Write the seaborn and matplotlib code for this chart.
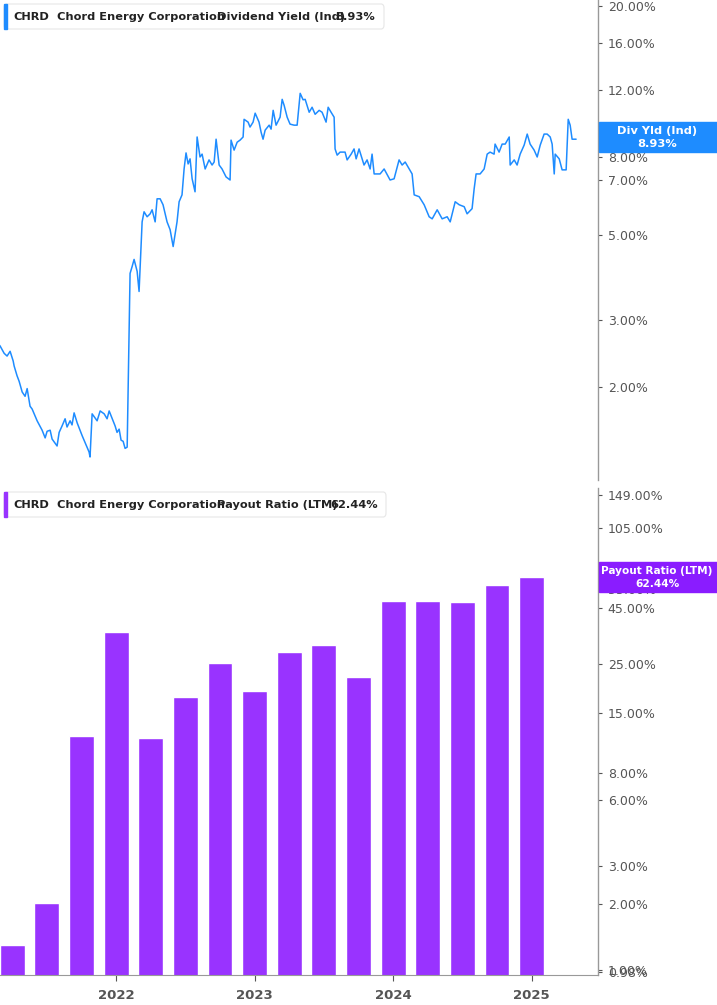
import matplotlib
matplotlib.use("Agg")
import matplotlib.pyplot as plt
import seaborn as sns
import pandas as pd
from matplotlib.patches import FancyBboxPatch, Rectangle
from matplotlib.ticker import FixedLocator, NullLocator

plt.rcParams["font.family"] = "Inter"

# ---- data ----
yield_time = [2021.141, 2021.163, 2021.192, 2021.213, 2021.235, 2021.257, 2021.264, 2021.285, 2021.300, 2021.322,
              2021.343, 2021.358, 2021.379, 2021.394, 2021.430, 2021.466, 2021.488, 2021.502, 2021.524, 2021.538,
              2021.574, 2021.589, 2021.610, 2021.632, 2021.646, 2021.668, 2021.682, 2021.697, 2021.719, 2021.755,
              2021.776, 2021.805, 2021.812, 2021.827, 2021.863, 2021.885, 2021.914, 2021.935, 2021.950, 2021.993,
              2022.007, 2022.022, 2022.036, 2022.051, 2022.065, 2022.080, 2022.101, 2022.116, 2022.130, 2022.152,
              2022.166, 2022.188, 2022.202, 2022.224, 2022.246, 2022.260, 2022.282, 2022.296, 2022.318, 2022.339,
              2022.368, 2022.390, 2022.412, 2022.426, 2022.440, 2022.455, 2022.476, 2022.491, 2022.505, 2022.520,
              2022.534, 2022.549, 2022.570, 2022.585, 2022.606, 2022.621, 2022.643, 2022.671, 2022.693, 2022.708,
              2022.722, 2022.744, 2022.765, 2022.794, 2022.823, 2022.830, 2022.852, 2022.874, 2022.895, 2022.917,
              2022.924, 2022.953, 2022.967, 2022.989, 2023.004, 2023.032, 2023.047, 2023.061, 2023.076, 2023.105,
              2023.119, 2023.134, 2023.155, 2023.184, 2023.199, 2023.213, 2023.235, 2023.256, 2023.285, 2023.307,
              2023.329, 2023.350, 2023.365, 2023.394, 2023.415, 2023.437, 2023.466, 2023.487, 2023.516, 2023.531,
              2023.552, 2023.574, 2023.581, 2023.596, 2023.617, 2023.653, 2023.668, 2023.697, 2023.718, 2023.733,
              2023.754, 2023.790, 2023.812, 2023.834, 2023.848, 2023.863, 2023.906, 2023.935, 2023.978, 2024.007,
              2024.043, 2024.065, 2024.087, 2024.116, 2024.137, 2024.152, 2024.188, 2024.224, 2024.260, 2024.282,
              2024.318, 2024.354, 2024.390, 2024.412, 2024.448, 2024.477, 2024.513, 2024.534, 2024.570, 2024.585,
              2024.599, 2024.628, 2024.657, 2024.679, 2024.700, 2024.729, 2024.736, 2024.765, 2024.787, 2024.809,
              2024.838, 2024.845, 2024.874, 2024.895, 2024.917, 2024.946, 2024.968, 2024.989, 2025.018, 2025.040,
              2025.062, 2025.090, 2025.112, 2025.134, 2025.148, 2025.163, 2025.170, 2025.199, 2025.220, 2025.235,
              2025.249, 2025.264, 2025.278, 2025.292, 2025.307, 2025.321]
yield_pct = [2.62, 2.56, 2.45, 2.41, 2.48, 2.34, 2.27, 2.14, 2.07, 1.94,
             1.89, 1.98, 1.78, 1.75, 1.63, 1.54, 1.47, 1.53, 1.54, 1.46,
             1.40, 1.52, 1.58, 1.65, 1.57, 1.63, 1.59, 1.71, 1.61, 1.49,
             1.43, 1.35, 1.31, 1.70, 1.63, 1.73, 1.70, 1.65, 1.73, 1.58,
             1.52, 1.55, 1.45, 1.44, 1.38, 1.39, 3.97, 4.14, 4.32, 4.02,
             3.56, 5.42, 5.76, 5.59, 5.69, 5.83, 5.42, 6.23, 6.23, 6.01,
             5.42, 5.17, 4.67, 5.04, 5.42, 6.12, 6.38, 7.46, 8.22, 7.69,
             7.93, 7.03, 6.50, 9.05, 8.02, 8.16, 7.46, 7.88, 7.64, 7.78,
             8.93, 7.64, 7.46, 7.11, 6.98, 8.88, 8.36, 8.77, 8.88, 9.05,
             10.07, 9.90, 9.61, 9.90, 10.45, 9.90, 9.31, 8.93, 9.43, 9.72,
             9.49, 10.63, 9.72, 10.20, 11.36, 10.96, 10.20, 9.78, 9.72, 9.72,
             11.78, 11.33, 11.36, 10.51, 10.83, 10.38, 10.63, 10.51, 9.90, 10.83,
             10.51, 10.20, 8.42, 8.11, 8.26, 8.26, 7.88, 8.16, 8.42, 7.93,
             8.42, 7.64, 7.88, 7.46, 8.16, 7.24, 7.24, 7.46, 6.98, 7.03,
             7.88, 7.64, 7.78, 7.46, 7.24, 6.38, 6.31, 6.01, 5.59, 5.52,
             5.83, 5.52, 5.59, 5.42, 6.12, 6.01, 5.94, 5.69, 5.87, 6.62,
             7.24, 7.24, 7.46, 8.16, 8.26, 8.16, 8.67, 8.26, 8.67, 8.67,
             9.05, 7.64, 7.88, 7.64, 8.16, 8.62, 9.21, 8.67, 8.36, 8.02,
             8.62, 9.21, 9.21, 9.05, 8.67, 7.24, 8.16, 7.93, 7.42, 7.42,
             7.42, 10.07, 9.72, 8.93, 8.93, 8.93]
quarter_time = [2021.25, 2021.50, 2021.75, 2022.00, 2022.25, 2022.50, 2022.75, 2023.00,
                2023.25, 2023.50, 2023.75, 2024.00, 2024.25, 2024.50, 2024.75, 2025.00]
payout_pct = [1.30, 2.02, 11.8, 35.2, 11.5, 17.7, 25.4, 18.9,
              28.5, 30.7, 21.9, 48.7, 48.7, 48.0, 57.7, 62.44]
year_ticks = [2022, 2023, 2024, 2025]
year_labels = ["2022", "2023", "2024", "2025"]
yield_ticks = [2, 3, 5, 7, 8, 12, 16, 20]
payout_ticks = [0.98, 1, 2, 3, 6, 8, 15, 25, 45, 55, 105, 149]

BLUE = "#1e8cff"
PURPLE = "#9933ff"
GRAY = "#555555"

sns.set_style("white")
fig = plt.figure(figsize=(7.17, 10.05), dpi=100)
W, H = 717, 1005
ax1 = fig.add_axes([0, 1 - 480 / H, 598 / W, 480 / H])
ax2 = fig.add_axes([0, 1 - 975 / H, 598 / W, 487 / H])

df = pd.DataFrame({"t": yield_time, "y": yield_pct})
sns.lineplot(data=df, x="t", y="y", ax=ax1, color=BLUE, linewidth=1.1)
ax1.set_yscale("log")
ax1.set_ylim(1.14, 20.7)

ax2.set_yscale("log")
ax2.bar(quarter_time, payout_pct, width=0.18, bottom=0.0, color=PURPLE, align="center")
ax2.set_ylim(0.949, 160)

for ax, ticks in ((ax1, yield_ticks), (ax2, payout_ticks)):
    ax.set_xlim(2021.162, 2025.479)
    ax.set_xlabel("")
    ax.set_ylabel("")
    ax.yaxis.tick_right()
    ax.yaxis.set_major_locator(FixedLocator(ticks))
    ax.yaxis.set_minor_locator(NullLocator())
    ax.set_yticklabels([f"{t:.2f}%" for t in ticks])
    ax.tick_params(axis="y", which="major", right=True, length=3, width=0.8, color=GRAY,
                   labelsize=9, labelcolor=GRAY, pad=4)
    for s in ("top", "left", "bottom"):
        ax.spines[s].set_visible(False)
    ax.spines["right"].set_color("#999999")
    ax.spines["right"].set_linewidth(1)

ax1.set_xticks([])
ax2.spines["bottom"].set_visible(True)
ax2.spines["bottom"].set_color("#999999")
ax2.set_xticks(year_ticks)
ax2.set_xticklabels(year_labels, fontweight="bold")
ax2.tick_params(axis="x", length=4, color=GRAY, labelsize=9.5, labelcolor=GRAY, pad=6, bottom=True)
ax1.tick_params(axis="x", bottom=False)


def legend_box(y_top, width_px, color, parts):
    bx = FancyBboxPatch((4 / W, 1 - (y_top + 26) / H), width_px / W, 25 / H,
                        boxstyle="round,pad=0,rounding_size=0.004", transform=fig.transFigure,
                        facecolor="white", edgecolor="#e6e6e6", lw=0.8)
    fig.add_artist(bx)
    fig.add_artist(Rectangle((4 / W, 1 - (y_top + 26) / H), 3 / W, 25 / H,
                             transform=fig.transFigure, color=color))
    for txt, x in parts:
        fig.text(x / W, 1 - (y_top + 13.5) / H, txt, fontsize=8.2, fontweight="bold",
                 color="#222222", va="center", ha="left")


legend_box(3, 380, BLUE, [("CHRD", 13), ("Chord Energy Corporation", 57),
                          ("Dividend Yield (Ind)", 217), ("8.93%", 335)])
legend_box(491, 382, PURPLE, [("CHRD", 13), ("Chord Energy Corporation", 57),
                              ("Payout Ratio (LTM)", 217), ("62.44%", 330)])


def value_tag(y_center, color, l1, l2, fs):
    fig.add_artist(Rectangle((599 / W, 1 - (y_center + 15) / H), 118 / W, 30 / H,
                             transform=fig.transFigure, color=color, zorder=10))
    fig.text(657 / W, 1 - (y_center - 6) / H, l1, fontsize=fs, fontweight="bold",
             color="white", ha="center", va="center", zorder=11)
    fig.text(657 / W, 1 - (y_center + 7) / H, l2, fontsize=fs, fontweight="bold",
             color="white", ha="center", va="center", zorder=11)


value_tag(137, BLUE, "Div Yld (Ind)", "8.93%", 8.2)
value_tag(577, "#8a1cff", "Payout Ratio (LTM)", "62.44%", 7.6)

fig.savefig("out.png", dpi=100)
